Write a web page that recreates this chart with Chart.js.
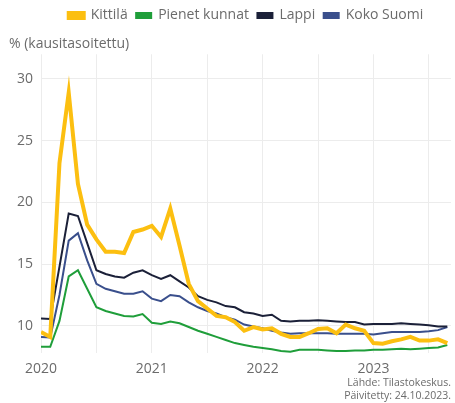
<!DOCTYPE html>
<html>
<head>
<meta charset="utf-8">
<script src="https://cdn.jsdelivr.net/npm/chart.js"></script>
<style>
  html, body { margin: 0; padding: 0; background: #fff; }
  #wrap { width: 455px; height: 403px; }
</style>
</head>
<body>
<div id="wrap"><canvas id="chart"></canvas></div>
<script>
// monthly, Jan 2020 .. Sep 2023
const startYear = 2020;
const months = [];
for (let i = 0; i < 45; i++) {
    months.push(`${startYear + Math.floor(i / 12)}-${String(i % 12 + 1).padStart(2, "0")}`);
}

const kittila = [
    9.5, 9.1, 23.2, 28.9, 21.5, 18.2, 17.0, 16.0, 16.0, 15.9, 17.6, 17.8,
    18.1, 17.2, 19.5, 16.5, 13.4, 12.0, 11.4, 10.8, 10.7, 10.3, 9.6, 9.9,
    9.7, 9.8, 9.35, 9.1, 9.1, 9.4, 9.75, 9.8, 9.4, 10.1, 9.8, 9.6,
    8.6, 8.55, 8.75, 8.9, 9.1, 8.8, 8.8, 8.9, 8.6,
];
const pienetKunnat = [
    8.3, 8.3, 10.4, 14.0, 14.5, 13.0, 11.5, 11.2, 11.0, 10.8, 10.75, 10.95,
    10.25, 10.15, 10.35, 10.2, 9.9, 9.6, 9.35, 9.1, 8.85, 8.6, 8.45, 8.3,
    8.2, 8.1, 7.95, 7.9, 8.05, 8.05, 8.05, 8.0, 7.95, 7.95, 8.0, 8.0,
    8.05, 8.05, 8.1, 8.15, 8.1, 8.15, 8.2, 8.25, 8.45,
];
const lappi = [
    10.6, 10.55, 14.8, 19.1, 18.9, 16.7, 14.5, 14.2, 14.0, 13.9, 14.3, 14.5,
    14.1, 13.8, 14.1, 13.6, 13.1, 12.4, 12.1, 11.9, 11.6, 11.5, 11.1, 11.0,
    10.8, 10.9, 10.4, 10.35, 10.4, 10.4, 10.45, 10.4, 10.35, 10.3, 10.3, 10.1,
    10.15, 10.15, 10.15, 10.2, 10.15, 10.1, 10.05, 9.95, 9.95,
];
const kokoSuomi = [
    9.1, 9.05, 12.5, 16.9, 17.5, 15.3, 13.4, 13.0, 12.8, 12.6, 12.6, 12.8,
    12.2, 12.0, 12.5, 12.4, 11.9, 11.5, 11.2, 11.0, 10.7, 10.5, 10.1, 9.95,
    9.8, 9.6, 9.45, 9.35, 9.4, 9.4, 9.4, 9.4, 9.35, 9.35, 9.35, 9.35,
    9.3, 9.4, 9.5, 9.5, 9.5, 9.5, 9.55, 9.65, 9.9,
];
const yTicks = [10, 15, 20, 25, 30];
const xTicks = [0, 6, 12, 18, 24, 30, 36, 42];

const FONT = "'Open Sans', sans-serif";
const GREY = "#6b6b6b";

function series(label, values, color, width) {
    return {
        label,
        data: values.map((v, i) => ({x: i, y: v})),
        borderColor: color,
        backgroundColor: color,
        borderWidth: width,
        pointRadius: 0,
        tension: 0,
    };
}

new Chart(document.getElementById("chart"), {
    type: "line",
    data: {
        datasets: [
            series("Kittilä", kittila, "#fcbf10", 4),
            series("Pienet kunnat", pienetKunnat, "#1f9e3a", 2),
            series("Lappi", lappi, "#1b2038", 2),
            series("Koko Suomi", kokoSuomi, "#3a4f8c", 2),
        ],
    },
    options: {
        responsive: true,
        maintainAspectRatio: false,
        animation: false,
        layout: {padding: {left: 9, right: 4, top: 0, bottom: 0}},
        plugins: {
            legend: {
                weight: 3000,
                fullSize: false,
                labels: {
                    boxWidth: 15,
                    boxHeight: 5,
                    color: GREY,
                    font: {family: FONT, size: 14},
                    padding: 8.5,
                },
            },
            subtitle: {
                display: true,
                text: "% (kausitasoitettu)",
                align: "start",
                color: GREY,
                font: {family: FONT, size: 14},
                padding: {top: 3, bottom: 2},
            },
            title: {
                display: true,
                position: "bottom",
                align: "end",
                text: ["Lähde: Tilastokeskus.", "Päivitetty: 24.10.2023."],
                color: GREY,
                font: {family: FONT, size: 10.5, weight: "normal", lineHeight: 1.25},
                padding: {top: -9, bottom: 0},
            },
            tooltip: {enabled: false},
        },
        scales: {
            x: {
                type: "linear",
                min: 0,
                max: 44.4,
                afterBuildTicks: (axis) => {
                    axis.ticks = xTicks.map((v) => ({value: v}));
                },
                ticks: {
                    autoSkip: false,
                    maxRotation: 0,
                    padding: 8,
                    color: GREY,
                    font: {family: FONT, size: 14},
                    callback: (v) => (v % 12 === 0 ? String(startYear + v / 12) : ""),
                },
                grid: {color: "#ececec", drawTicks: false},
                border: {display: false},
            },
            y: {
                min: 7.8,
                max: 32,
                afterBuildTicks: (axis) => {
                    axis.ticks = yTicks.map((v) => ({value: v}));
                },
                ticks: {
                    color: GREY,
                    font: {family: FONT, size: 14},
                    padding: 8,
                },
                grid: {color: "#ececec", drawTicks: false},
                border: {display: false},
            },
        },
    },
});
</script>
</body>
</html>
